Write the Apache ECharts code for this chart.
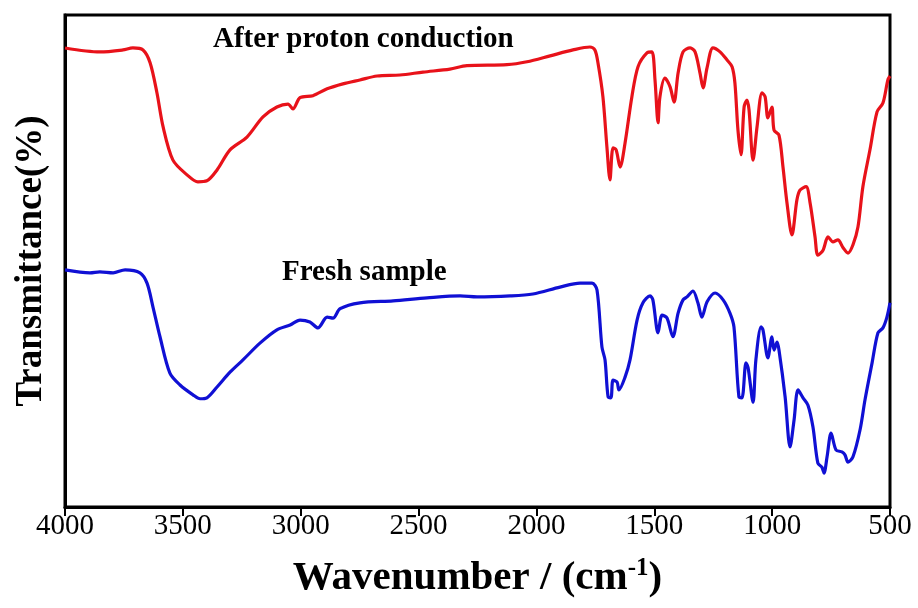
<!DOCTYPE html>
<html>
<head>
<meta charset="utf-8">
<script src="https://cdn.jsdelivr.net/npm/echarts@6/dist/echarts.min.js"></script>
<style>html,body{margin:0;padding:0;background:#fff}#c{width:918px;height:608px}</style>
</head>
<body>
<div id="c"></div>
<script>
// Wavenumber (cm^-1) for each trace
const redWavenumber = [4000,3852,3754,3712,3669,3639,3610,3584,3542,3482,3436,3398,3355,3300,3228,3160,3101,3054,3033,3003,2948,2888,2821,2749,2676,2579,2481,2367,2295,2125,2040,1942,1845,1773,1752,1739,1718,1701,1688,1675,1662,1645,1624,1595,1569,1531,1510,1497,1484,1476,1455,1433,1416,1399,1378,1348,1327,1306,1293,1276,1251,1221,1192,1170,1158,1145,1132,1119,1107,1098,1081,1064,1043,1030,1018,1001,992,971,954,937,916,895,882,856,839,818,806,784,763,742,721,699,678,657,636,615,585,555,530,509,500];
const redTransmittance = [93.3,92.5,92.9,93.3,92.9,90.3,84.2,77.3,70.5,67.5,66.1,66.3,68.5,72.6,75.2,79.3,81.3,81.9,80.9,83.2,83.6,85.0,86.0,86.8,87.6,87.8,88.4,89.0,89.7,89.9,90.5,91.7,92.9,93.5,92.9,90.3,83.4,73.2,66.5,73.0,72.6,69.1,74.0,83.4,89.5,92.3,92.5,86.8,78.1,83.4,87.2,85.4,82.3,88.2,92.5,93.3,92.5,88.2,85.2,89.3,93.3,92.5,90.9,89.5,86.2,76.6,71.6,81.3,82.7,80.7,70.5,77.3,84.2,83.4,79.1,81.3,76.6,75.6,69.1,61.8,55.3,62.4,64.4,65.1,61.8,54.9,51.2,52.2,54.9,53.9,54.3,52.7,51.6,53.3,56.9,65.1,72.6,80.3,82.1,86.8,87.6];

const blueWavenumber = [4000,3894,3852,3796,3745,3682,3652,3627,3597,3555,3512,3457,3427,3398,3355,3300,3245,3173,3101,3045,3003,2961,2927,2888,2863,2833,2749,2608,2464,2324,2252,2112,2015,1900,1815,1764,1743,1722,1709,1696,1684,1675,1658,1650,1624,1603,1573,1548,1518,1506,1484,1467,1446,1421,1399,1378,1361,1336,1315,1298,1276,1242,1208,1179,1162,1141,1128,1111,1102,1081,1069,1047,1039,1018,1001,992,979,971,945,924,907,890,869,848,827,806,789,780,767,750,729,704,691,678,657,627,606,576,551,530,513,500];
const blueTransmittance = [48.2,47.6,47.8,47.6,48.2,47.6,45.5,40.7,34.6,27.2,24.8,22.8,22.0,22.2,24.4,27.4,29.9,33.3,36.0,37.0,38.0,37.6,36.4,38.6,38.4,40.3,41.5,41.9,42.5,42.9,42.7,42.9,43.3,44.7,45.5,45.5,44.1,32.5,29.9,22.4,22.2,25.8,25.4,23.8,26.4,29.9,38.0,41.5,42.9,42.1,35.4,39.0,38.4,34.6,39.4,42.1,42.7,43.9,41.5,38.6,41.7,43.5,42.1,39.4,36.6,22.4,22.2,29.3,28.3,21.3,29.9,36.6,36.0,30.3,34.6,31.9,33.5,31.9,22.4,12.2,17.7,23.8,22.2,20.7,16.3,8.9,8.1,6.9,10.2,15.0,11.6,11.2,10.6,9.1,10.2,15.7,21.8,29.3,35.4,36.4,38.6,41.5];

const xTicks = [4000,3500,3000,2500,2000,1500,1000,500];
const seriesNames = ['After proton conduction','Fresh sample'];

const zip = (a,b) => a.map((v,i)=>[v,b[i]]);

const chart = echarts.init(document.getElementById('c'), null, {renderer:'canvas'});
chart.setOption({
  backgroundColor:'#fff',
  animation:false,
  grid:{left:65,right:28,top:15,bottom:101,show:true,borderColor:'#000',borderWidth:3,backgroundColor:'transparent'},
  xAxis:{
    type:'value', min:500, max:4000, interval:500, inverse:true,
    axisLine:{show:true,lineStyle:{color:'#000',width:3}},
    axisTick:{show:true,inside:false,length:9,lineStyle:{color:'#000',width:2}},
    splitLine:{show:false},
    axisLabel:{color:'#000',fontFamily:'Liberation Serif',fontSize:29,margin:5,showMinLabel:true,showMaxLabel:true,
      formatter:v=>xTicks.includes(v)?String(v):''},
    name:'{a|Wavenumber / (cm}{s|-1}{a|)}',
    nameLocation:'middle', nameGap:49,
    nameTextStyle:{rich:{
      a:{fontFamily:'Liberation Serif',fontWeight:'bold',fontSize:41,color:'#000'},
      s:{fontFamily:'Liberation Serif',fontWeight:'bold',fontSize:25,color:'#000',verticalAlign:'top',padding:[0,0,20,0]}
    }}
  },
  yAxis:{
    type:'value', min:0, max:100,
    axisLine:{show:true,lineStyle:{color:'#000',width:3}},
    axisTick:{show:false}, axisLabel:{show:false}, splitLine:{show:false},
    name:'Transmittance(%)', nameLocation:'middle', nameGap:15,
    nameTextStyle:{fontFamily:'Liberation Serif',fontWeight:'bold',fontSize:37,color:'#000'}
  },
  series:[
    {name:seriesNames[0],type:'line',data:zip(redWavenumber,redTransmittance),showSymbol:false,smooth:0.3,
      lineStyle:{color:'#e8121a',width:3.2},itemStyle:{color:'#e8121a'}},
    {name:seriesNames[1],type:'line',data:zip(blueWavenumber,blueTransmittance),showSymbol:false,smooth:0.3,
      lineStyle:{color:'#1010d4',width:3.2},itemStyle:{color:'#1010d4'}}
  ],
  graphic:[
    {type:'text',left:213,top:25,style:{text:seriesNames[0],font:'bold 29px "Liberation Serif"',fill:'#000'}},
    {type:'text',left:282,top:258,style:{text:seriesNames[1],font:'bold 29px "Liberation Serif"',fill:'#000'}}
  ]
});
</script>
</body>
</html>
